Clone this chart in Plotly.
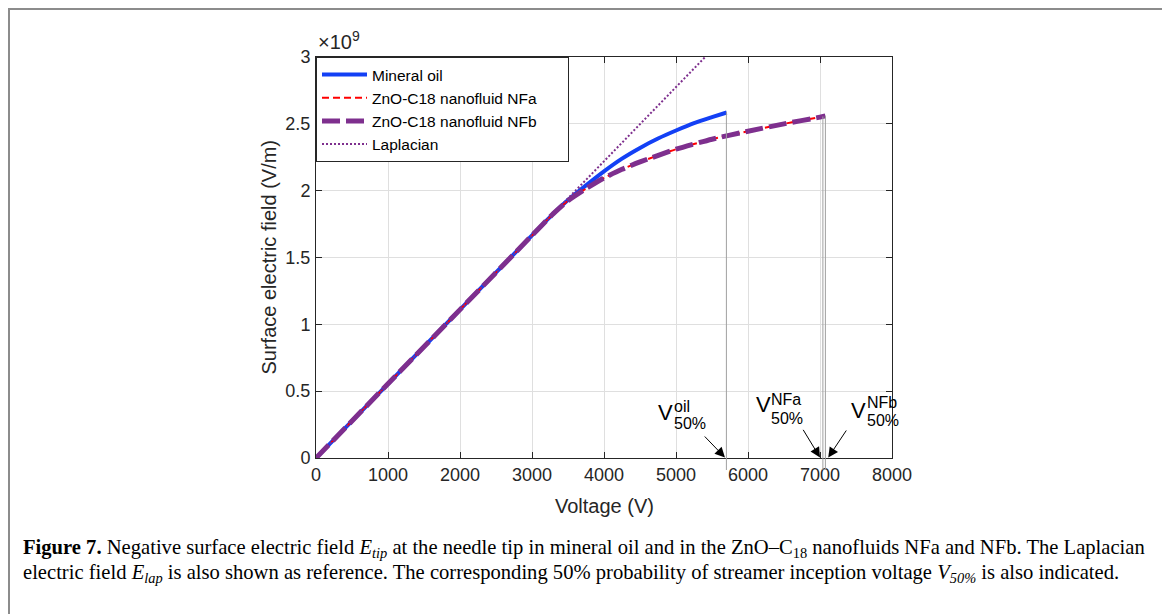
import plotly.graph_objects as go

# ---------------- data ----------------
V_oil = [0, 1000, 2000, 3000, 3300, 3500, 3750, 4000, 4250, 4500, 4750, 5000, 5250, 5500, 5704]
E_oil = [0, 0.555, 1.11, 1.665, 1.83, 1.93, 2.04, 2.145, 2.24, 2.32, 2.39, 2.45, 2.505, 2.55, 2.585]

V_nfa = [0, 1000, 2000, 3000, 3300, 3500, 3750, 4000, 4250, 4500, 5000, 5500, 6000, 6500, 7000, 7040]
E_nfa = [0, 0.555, 1.11, 1.665, 1.83, 1.925, 2.015, 2.095, 2.16, 2.215, 2.31, 2.385, 2.445, 2.50, 2.55, 2.555]

V_nfb = [0, 1000, 2000, 3000, 3300, 3500, 3750, 4000, 4250, 4500, 5000, 5500, 6000, 6500, 7000, 7075]
E_nfb = [0, 0.555, 1.11, 1.665, 1.83, 1.925, 2.015, 2.095, 2.16, 2.215, 2.31, 2.385, 2.445, 2.50, 2.55, 2.56]

V_lap = [0, 6000]
E_lap = [0, 3.33]

SCALE = 1e9
series_names = ["Mineral oil", "ZnO-C18 nanofluid NFa", "ZnO-C18 nanofluid NFb", "Laplacian"]
V50_names = ["oil", "NFa", "NFb"]
V50_vals = [5700, 7040, 7075]
V50_E = [2.59, 2.555, 2.56]

x_ticks = [0, 1000, 2000, 3000, 4000, 5000, 6000, 7000, 8000]
y_ticks = [0, 0.5, 1, 1.5, 2, 2.5, 3]
y_ticktext = ["0", "0.5", "1", "1.5", "2", "2.5", "3"]
X_RANGE = [0, 8000]
Y_RANGE = [0, 3]

# ---------------- layout geometry (page pixels; the page body has an 8px margin) ----------------
PAGE_W, PAGE_H = 1170, 614
OFF = 8
W, H = PAGE_W - OFF, PAGE_H - OFF
PL, PR, PT, PB = 316, 892, 57, 458


def xp(px):
    return (px - PL) / (PR - PL)


def yp(py):
    return (PB - py) / (PB - PT)


AX = "#262626"
FONT = "Liberation Sans, Arial, sans-serif"
SERIF = "Liberation Serif, Times New Roman, serif"
BLUE = "#1340f5"
RED = "#ff0000"
PURPLE = "#7E2F8E"
PAD = "\u00a0" * 6  # widen the legend box a little, like the reference

fig = go.Figure()
fig.add_trace(go.Scatter(x=V_oil, y=[e * SCALE for e in E_oil], mode="lines",
                         name=series_names[0], line=dict(color=BLUE, width=4, shape="spline", smoothing=0.6)))
fig.add_trace(go.Scatter(x=V_nfa, y=[e * SCALE for e in E_nfa], mode="lines",
                         name=series_names[1], line=dict(color=RED, width=2, dash="7px,4px",
                                                         shape="spline", smoothing=0.6)))
fig.add_trace(go.Scatter(x=V_nfb, y=[e * SCALE for e in E_nfb], mode="lines",
                         name=series_names[2] + PAD, line=dict(color=PURPLE, width=5, dash="18px,6px",
                                                               shape="spline", smoothing=0.6)))
fig.add_trace(go.Scatter(x=V_lap, y=[e * SCALE for e in E_lap], mode="lines",
                         name=series_names[3], line=dict(color=PURPLE, width=2, dash="2px,2px")))

shapes = []
# vertical marker lines at V50 values
for v, e in zip(V50_vals, V50_E):
    shapes.append(dict(type="line", xref="x", yref="paper", x0=v, x1=v,
                       y0=yp(470), y1=e / Y_RANGE[1], line=dict(color="#a0a0a0", width=1), layer="above"))
# figure frame
shapes.append(dict(type="rect", xref="paper", yref="paper", x0=xp(9), x1=xp(1163), y0=yp(640), y1=yp(9),
                   line=dict(color="#8c8c8c", width=2), fillcolor="rgba(0,0,0,0)", layer="below"))

annotations = []
# arrows: tip offset and tail position (data coords)
arrow_tips = [(-20, 0.004), (-40, 0.004), (40, 0.004)]
arrow_tails = [(5379, 0.172), (6754, 0.222), (7379, 0.217)]
for v, (dx, ty), (tx, tyy) in zip(V50_vals, arrow_tips, arrow_tails):
    annotations.append(dict(x=v + dx, y=ty * SCALE, ax=tx, ay=tyy * SCALE, axref="x", ayref="y",
                            xref="x", yref="y", text="", showarrow=True, arrowhead=2, arrowsize=2,
                            arrowwidth=1, arrowcolor="black", standoff=0))

# V50 labels: base V, superscript, subscript (page pixel positions)
label_pos = [((665, 412), (672, 406), (672, 423)),
             ((763, 404), (769, 399), (769, 418)),
             ((858, 410), (865, 402), (865, 420))]
for name, (vpos, suppos, subpos) in zip(V50_names, label_pos):
    annotations.append(dict(x=xp(vpos[0]), y=yp(vpos[1]), xref="paper", yref="paper", text="V",
                            showarrow=False, font=dict(family=FONT, size=22, color="black"),
                            xanchor="center", yanchor="middle"))
    annotations.append(dict(x=xp(suppos[0]), y=yp(suppos[1]), xref="paper", yref="paper", text=name,
                            showarrow=False, font=dict(family=FONT, size=16, color="black"),
                            xanchor="left", yanchor="middle"))
    annotations.append(dict(x=xp(subpos[0]), y=yp(subpos[1]), xref="paper", yref="paper", text="50%",
                            showarrow=False, font=dict(family=FONT, size=16, color="black"),
                            xanchor="left", yanchor="middle"))

# exponent label
annotations.append(dict(x=xp(316), y=yp(55), xref="paper", yref="paper", text="×10<sup>9</sup>",
                        showarrow=False, font=dict(family=FONT, size=20, color=AX),
                        xanchor="left", yanchor="bottom"))
# axis titles
annotations.append(dict(x=0.5, y=yp(506), xref="paper", yref="paper", text="Voltage (V)",
                        showarrow=False, font=dict(family=FONT, size=20, color=AX),
                        xanchor="center", yanchor="middle"))
annotations.append(dict(x=xp(268), y=0.5, xref="paper", yref="paper", text="Surface electric field (V/m)",
                        showarrow=False, textangle=-90, font=dict(family=FONT, size=20, color=AX),
                        xanchor="center", yanchor="middle"))
# caption
cap1 = ("<b>Figure 7.</b> Negative surface electric field <i>E<sub>tip</sub></i> at the needle tip in mineral oil "
        "and in the ZnO–C<sub>18</sub> nanofluids NFa and NFb. The Laplacian")
cap2 = ("electric field <i>E<sub>lap</sub></i> is also shown as reference. The corresponding 50% probability of "
        "streamer inception voltage <i>V<sub>50%</sub></i> is also indicated.")
annotations.append(dict(x=xp(21), y=yp(548), xref="paper", yref="paper", text=cap1, showarrow=False,
                        font=dict(family=SERIF, size=20.6, color="black"), xanchor="left", yanchor="middle"))
annotations.append(dict(x=xp(21), y=yp(573), xref="paper", yref="paper", text=cap2, showarrow=False,
                        font=dict(family=SERIF, size=20.6, color="black"), xanchor="left", yanchor="middle"))

axis_common = dict(showline=True, linecolor=AX, linewidth=1, mirror="ticks", ticks="inside", ticklen=6,
                   tickcolor=AX, showgrid=True, gridcolor="#dfdfdf", gridwidth=1, zeroline=False,
                   tickfont=dict(family=FONT, size=18, color=AX))

fig.update_layout(
    width=W, height=H,
    margin=dict(l=PL - OFF, r=W - (PR - OFF), t=PT - OFF, b=H - (PB - OFF), autoexpand=False),
    paper_bgcolor="white", plot_bgcolor="white",
    xaxis=dict(range=X_RANGE, tickvals=x_ticks, ticktext=[str(t) for t in x_ticks], **axis_common),
    yaxis=dict(range=[Y_RANGE[0] * SCALE, Y_RANGE[1] * SCALE], tickvals=[t * SCALE for t in y_ticks],
               ticktext=y_ticktext, ticklabelstandoff=1, **axis_common),
    legend=dict(x=0, y=1, xanchor="left", yanchor="top", bgcolor="white", bordercolor=AX, borderwidth=1,
                font=dict(family=FONT, size=15.5, color="black"), tracegroupgap=0, itemwidth=45),
    showlegend=True,
    shapes=shapes,
    annotations=annotations,
)

fig.write_html("out.html")
